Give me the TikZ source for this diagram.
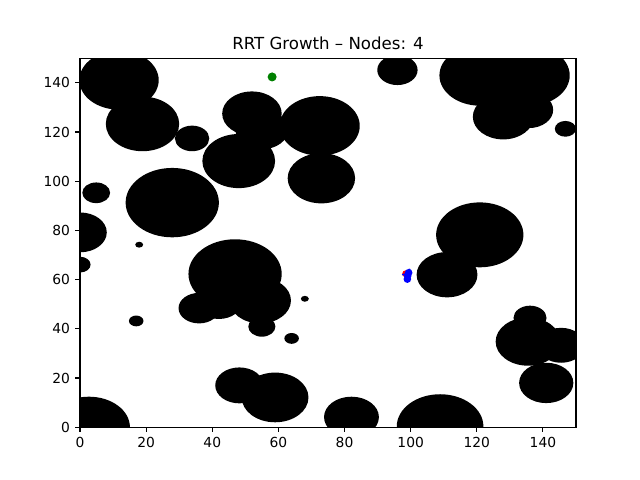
\documentclass[tikz,border=0pt]{standalone}
\usepackage{fontspec}
\setmainfont{DejaVu Sans}
\usepackage{tikz}

\begin{document}
\begin{tikzpicture}[x=0.033067in, y=0.0246in,
    obstacle/.style={fill=black},
    treenode/.style={circle,fill=blue,inner sep=0pt,minimum size=5.5pt},
    startnode/.style={circle,fill=red,inner sep=0pt,minimum size=5pt},
    goalnode/.style={circle,fill=green!50!black,inner sep=0pt,minimum size=6.5pt},
    treeedge/.style={blue,line width=1pt},
    ticklabel/.style={font=\fontsize{10}{12}\selectfont,inner sep=0pt}
]
\useasboundingbox (-0.8in,-0.528in) rectangle (5.6in,4.272in);

% Obstacles (circles in data units, clipped to the axes)
\begin{scope}
\clip (0,0) rectangle (150,150);
\fill[obstacle] (11.8,141.1) circle [radius=12];
\fill[obstacle] (18.9,123.3) circle [radius=11.1];
\fill[obstacle] (33.9,117.4) circle [radius=5.2];
\fill[obstacle] (27.9,91.3) circle [radius=14.1];
\fill[obstacle] (4.9,95.3) circle [radius=4.2];
\fill[obstacle] (0,79.2) circle [radius=8.1];
\fill[obstacle] (0,66.1) circle [radius=3.2];
\fill[obstacle] (17.9,74.2) circle [radius=1.2];
\fill[obstacle] (17,43.2) circle [radius=2.2];
\fill[obstacle] (46.9,62.3) circle [radius=14.1];
\fill[obstacle] (36,48.4) circle [radius=6.2];
\fill[obstacle] (42,51) circle [radius=7];
\fill[obstacle] (54.5,51.5) circle [radius=9.3];
\fill[obstacle] (55,40.9) circle [radius=4.1];
\fill[obstacle] (68,52.2) circle [radius=1.2];
\fill[obstacle] (64,36.1) circle [radius=2.2];
\fill[obstacle] (48.2,17) circle [radius=7.3];
\fill[obstacle] (59,12.1) circle [radius=10.1];
\fill[obstacle] (2.7,0) circle [radius=12.4];
\fill[obstacle] (82.1,4.1) circle [radius=8.3];
\fill[obstacle] (108.9,0.3) circle [radius=13.1];
\fill[obstacle] (136.1,44.4) circle [radius=5];
\fill[obstacle] (135.5,34.8) circle [radius=9.8];
\fill[obstacle] (145.5,33.3) circle [radius=7.1];
\fill[obstacle] (141,18) circle [radius=8.2];
\fill[obstacle] (121,143) circle [radius=12.3];
\fill[obstacle] (135.8,143) circle [radius=12.3];
\fill[obstacle] (128,126.2) circle [radius=9.2];
\fill[obstacle] (135.7,129) circle [radius=7.4];
\fill[obstacle] (146.8,121.3) circle [radius=3.2];
\fill[obstacle] (96,145.2) circle [radius=6.1];
\fill[obstacle] (72.5,122.5) circle [radius=12.1];
\fill[obstacle] (73,101.2) circle [radius=10.2];
\fill[obstacle] (52,127.5) circle [radius=9];
\fill[obstacle] (48,108.2) circle [radius=11];
\fill[obstacle] (55,121) circle [radius=8];
\fill[obstacle] (120.9,78.2) circle [radius=13.2];
\fill[obstacle] (111,62) circle [radius=9.2];
\end{scope}

% Start, goal and tree
\node[goalnode] (goal) at (58.1,142.4) {};
\node[startnode] (start) at (98.5,62.4) {};
\node[treenode] (n1) at (99.4,62.8) {};
\node[treenode] (n2) at (99.1,61.5) {};
\node[treenode] (n3) at (99.0,60.2) {};
\draw[treeedge] (start) -- (n1);
\draw[treeedge] (n1) -- (n2);
\draw[treeedge] (n2) -- (n3);

% Axes frame and ticks
\draw[line width=0.8pt] (0,0) rectangle (150,150);
\foreach \t in {0,20,...,140} {
  \draw[line width=0.8pt] (\t,0) -- ++(0,-3.5pt);
  \node[ticklabel,anchor=north] at ([yshift=-7pt]\t,0) {\t};
  \draw[line width=0.8pt] (0,\t) -- ++(-3.5pt,0);
  \node[ticklabel,anchor=east] at ([xshift=-7pt]0,\t) {\t};
}

% Title
\node[font=\fontsize{12}{14}\selectfont,anchor=base,inner sep=0pt] (title) at ([yshift=6pt]75,150) {RRT Growth – Nodes: 4};

\end{tikzpicture}
\end{document}
